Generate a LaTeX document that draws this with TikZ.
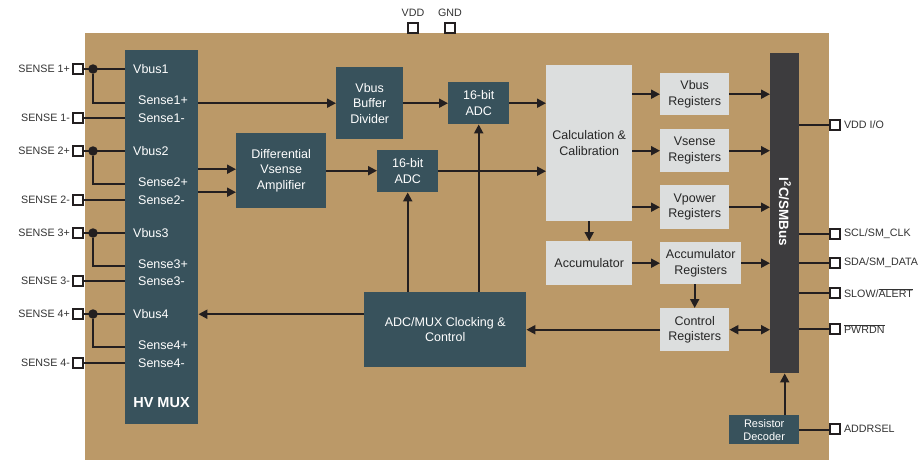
\documentclass[tikz,border=0pt]{standalone}
\usepackage{fontspec}
\setmainfont{Liberation Sans}
\usetikzlibrary{positioning,arrows.meta}

\definecolor{boardtan}{HTML}{BB9968}
\definecolor{blockteal}{HTML}{38525C}
\definecolor{blockgrey}{HTML}{DCDEDE}
\definecolor{busgrey}{HTML}{3D3C3E}
\definecolor{wire}{HTML}{231F20}
\definecolor{pintext}{HTML}{333333}

\newcommand{\pinfont}{\fontsize{10.7}{13}\selectfont}
\newcommand{\blkfont}{\fontsize{12.5}{15.5}\selectfont}

\tikzset{
  darkblock/.style={fill=blockteal, text=white, anchor=north west, inner sep=0pt, align=center, font=\blkfont},
  greyblock/.style={fill=blockgrey, text=black!85, anchor=north west, inner sep=0pt, align=center, font=\blkfont},
  padbox/.style={draw=wire, fill=white, line width=1.8pt, minimum size=10pt, inner sep=0pt},
  pinlabel/.style={text=pintext, inner sep=0pt, font=\pinfont},
  muxlabel/.style={text=white, inner sep=0pt, anchor=west, font=\blkfont},
  wireline/.style={draw=wire, line width=2pt},
  sig/.style={wireline, -{Triangle[length=9pt,width=9pt]}},
  junction/.style={circle, fill=wire, minimum size=9.5pt, inner sep=0pt}
}

\begin{document}
\begin{tikzpicture}[x=1pt, y=-1pt]

\useasboundingbox (0,0) rectangle (919,459);

% chip body
\fill [boardtan] (85,33) rectangle (829,460);

% HV MUX
\node [darkblock, minimum width=73, minimum height=374] (mux) at (125,50) {};
\node [text=white, font=\fontsize{14.5}{17}\selectfont\bfseries] (muxname) at (161.5,403) {HV MUX};

% mux inputs
\node [muxlabel] (v1) at (133,69) {Vbus1};
\node [muxlabel] (p1) at (138,100) {Sense1+};
\node [muxlabel] (m1) at (138,118) {Sense1-};
\node [muxlabel] (v2) at (133,151) {Vbus2};
\node [muxlabel] (p2) at (138,182) {Sense2+};
\node [muxlabel] (m2) at (138,200) {Sense2-};
\node [muxlabel] (v3) at (133,233) {Vbus3};
\node [muxlabel] (p3) at (138,264) {Sense3+};
\node [muxlabel] (m3) at (138,281) {Sense3-};
\node [muxlabel] (v4) at (133,314) {Vbus4};
\node [muxlabel] (p4) at (138,345) {Sense4+};
\node [muxlabel] (m4) at (138,363) {Sense4-};

% analog front end
\node [darkblock, minimum width=67, minimum height=72] (vbb) at (336,67) {Vbus\\Buffer\\Divider};
\node [darkblock, minimum width=90, minimum height=75] (amp) at (236,133) {Differential\\Vsense\\Amplifier};
\node [darkblock, minimum width=61, minimum height=42] (adcA) at (448,82) {16-bit\\ADC};
\node [darkblock, minimum width=61, minimum height=42] (adcB) at (377,150) {16-bit\\ADC};
\node [darkblock, minimum width=162, minimum height=75] (ctrl) at (364,292) {ADC/MUX Clocking \&\\Control};

% digital part
\node [greyblock, minimum width=86, minimum height=156] (calc) at (546,65) {Calculation \&\\Calibration};
\node [greyblock, minimum width=86, minimum height=44] (accu) at (546,241) {Accumulator};
\node [greyblock, minimum width=69, minimum height=42] (regvbus) at (660,73) {Vbus\\Registers};
\node [greyblock, minimum width=69, minimum height=43] (regvsense) at (660,129) {Vsense\\Registers};
\node [greyblock, minimum width=69, minimum height=44] (regvpower) at (660,185) {Vpower\\Registers};
\node [greyblock, minimum width=81, minimum height=42] (regaccu) at (660,242) {Accumulator\\Registers};
\node [greyblock, minimum width=69, minimum height=43] (regctrl) at (660,308) {Control\\Registers};

% serial bus
\node [fill=busgrey, anchor=north west, minimum width=29, minimum height=320, inner sep=0pt] (bus) at (770,53) {};
\node [rotate=-90, text=white, font=\fontsize{13.5}{16}\selectfont\bfseries] (busname) at (785,212) {I\textsuperscript{2}C/SMBus};
\node [darkblock, minimum width=70, minimum height=29, font=\fontsize{11}{13}\selectfont] (rdec) at (729,415) {Resistor\\Decoder};

% left pins
\node [padbox] (s1p) at (78,69) {};
\node [padbox] (s1m) at (78,118) {};
\node [padbox] (s2p) at (78,151) {};
\node [padbox] (s2m) at (78,200) {};
\node [padbox] (s3p) at (78,233) {};
\node [padbox] (s3m) at (78,281) {};
\node [padbox] (s4p) at (78,314) {};
\node [padbox] (s4m) at (78,363) {};
\node [pinlabel, left=2pt of s1p] {SENSE 1+};
\node [pinlabel, left=2pt of s1m] {SENSE 1-};
\node [pinlabel, left=2pt of s2p] {SENSE 2+};
\node [pinlabel, left=2pt of s2m] {SENSE 2-};
\node [pinlabel, left=2pt of s3p] {SENSE 3+};
\node [pinlabel, left=2pt of s3m] {SENSE 3-};
\node [pinlabel, left=2pt of s4p] {SENSE 4+};
\node [pinlabel, left=2pt of s4m] {SENSE 4-};

% top pins
\node [padbox] (vdd) at (413,28) {};
\node [padbox] (gnd) at (450,28) {};
\node [pinlabel, above=5pt of vdd] {VDD};
\node [pinlabel, above=5pt of gnd] {GND};

% right pins
\node [padbox] (vddio) at (835,125) {};
\node [padbox] (scl) at (835,234) {};
\node [padbox] (sda) at (835,263) {};
\node [padbox] (slow) at (835,293) {};
\node [padbox] (pwrdn) at (835,329) {};
\node [padbox] (addr) at (835,429) {};
\node [pinlabel, right=3pt of vddio] {VDD I/O};
\node [pinlabel, right=3pt of scl] {SCL/SM\_CLK};
\node [pinlabel, right=3pt of sda] {SDA/SM\_DATA};
\node [pinlabel, right=3pt of slow] {SLOW/$\overline{\mbox{ALERT}}$};
\node [pinlabel, right=3pt of pwrdn] {$\overline{\mbox{PWRDN}}$};
\node [pinlabel, right=3pt of addr] {ADDRSEL};

% sense inputs into the mux
\node [junction] (j1) at (93,69) {};
\node [junction] (j2) at (93,151) {};
\node [junction] (j3) at (93,233) {};
\node [junction] (j4) at (93,314) {};
\coordinate (in1) at (125,103);
\coordinate (in2) at (125,184);
\coordinate (in3) at (125,266);
\coordinate (in4) at (125,347);

\draw [wireline] (s1p) -- (s1p -| mux.west)  (j1) |- (in1)  (s1m) -- (s1m -| mux.west);
\draw [wireline] (s2p) -- (s2p -| mux.west)  (j2) |- (in2)  (s2m) -- (s2m -| mux.west);
\draw [wireline] (s3p) -- (s3p -| mux.west)  (j3) |- (in3)  (s3m) -- (s3m -| mux.west);
\draw [wireline] (s4p) -- (s4p -| mux.west)  (j4) |- (in4)  (s4m) -- (s4m -| mux.west);

% analog signal path
\coordinate (ampin1) at ([yshift=1.5pt]amp.west);
\coordinate (ampin2) at ([yshift=-21.5pt]amp.west);
\coordinate (muxctl) at ([yshift=15.5pt]ctrl.west);
\draw [sig] (mux.east |- vbb.west) -- (vbb.west);
\draw [sig] (mux.east |- ampin1) -- (ampin1);
\draw [sig] (mux.east |- ampin2) -- (ampin2);
\draw [sig] (vbb.east) -- (adcA.west);
\draw [sig] (amp.east) -- (amp.east -| adcB.west);
\draw [sig] (adcA.east) -- (adcA.east -| calc.west);
\draw [sig] (adcB.east) -- (adcB.east -| calc.west);
\draw [sig] (ctrl.north -| adcB.south) -- (adcB.south);
\draw [sig] (ctrl.north -| adcA.south) -- (adcA.south);
\draw [sig] (muxctl) -- (muxctl -| mux.east);

% digital signal path
\draw [sig] (regvbus.west -| calc.east) -- (regvbus.west);
\draw [sig] (regvsense.west -| calc.east) -- (regvsense.west);
\draw [sig] (regvpower.west -| calc.east) -- (regvpower.west);
\draw [sig] (calc.south) -- (accu.north);
\draw [sig] (accu.east) -- (accu.east -| regaccu.west);
\draw [sig] (regvbus.east) -- (regvbus.east -| bus.west);
\draw [sig] (regvsense.east) -- (regvsense.east -| bus.west);
\draw [sig] (regvpower.east) -- (regvpower.east -| bus.west);
\draw [sig] (regaccu.east) -- (regaccu.east -| bus.west);
\draw [sig] (regctrl.north |- regaccu.south) -- (regctrl.north);
\draw [wireline, {Triangle[length=9pt,width=9pt]}-{Triangle[length=9pt,width=9pt]}] (regctrl.east) -- (regctrl.east -| bus.west);
\draw [sig] (regctrl.west) -- (regctrl.west -| ctrl.east);
\draw [sig] (bus.south |- rdec.north) -- (bus.south);

% right pin wires
\draw [wireline] (vddio -| bus.east) -- (vddio.west);
\draw [wireline] (scl -| bus.east) -- (scl.west);
\draw [wireline] (sda -| bus.east) -- (sda.west);
\draw [wireline] (slow -| bus.east) -- (slow.west);
\draw [wireline] (pwrdn -| bus.east) -- (pwrdn.west);
\draw [wireline] (rdec.east) -- (rdec.east -| addr.west);

\end{tikzpicture}
\end{document}
